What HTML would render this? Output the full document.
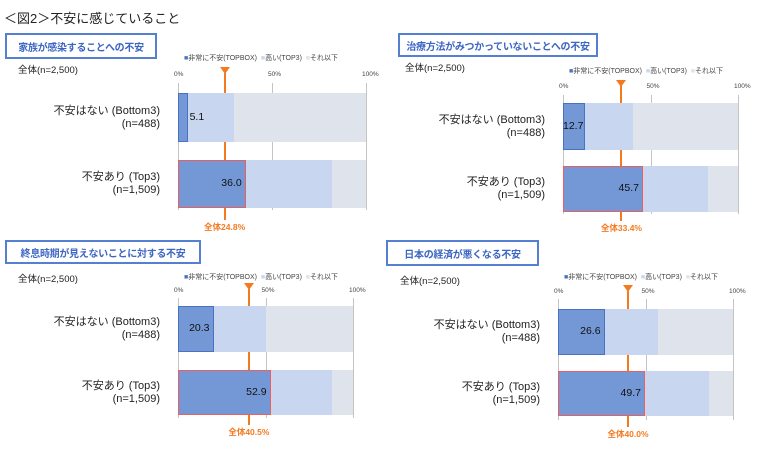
<!DOCTYPE html>
<html><head><meta charset="utf-8"><style>
body{margin:0;width:760px;height:450px;background:#fff;position:relative;overflow:hidden;font-family:"Liberation Sans","Noto Sans CJK JP",sans-serif;color:#222}
.a{position:absolute;white-space:nowrap}
.tb{position:absolute;border:2px solid #5580d2;color:#3d66c4;font-size:10px;font-weight:bold;letter-spacing:-0.3px;white-space:nowrap;display:flex;align-items:center;justify-content:center;box-sizing:border-box;background:#fff}
.cl{position:absolute;text-align:right;font-size:11px;line-height:13px;width:160px}
.tick{position:absolute;font-size:6.5px;color:#444}
.leg{position:absolute;font-size:7px;color:#444;white-space:nowrap}
.grid{position:absolute;width:1px;background:#c4c4c4}
.seg{position:absolute;box-sizing:border-box}
.val{position:absolute;font-size:10.5px;color:#111}
.tot{position:absolute;font-size:8.5px;color:#f47a20;font-weight:bold;white-space:nowrap;transform:translateX(-50%)}
.ol{position:absolute;width:2px;background:#f47a20}
</style></head><body>
<div class="a" style="left:4px;top:8px;font-size:13px">＜図2＞不安に感じていること</div>
<div id="root"></div>
<script>
var P=[
{t:"家族が感染することへの不安",tb:[5,33,152,26],n:[18,62],x0:178,w:188,leg:53,ax:71,gy:[83,210],b:[[93,49,5.1,30,0],[160,48,36.0,82,1]],m:24.8,ty:67,ly:221,cl:160},
{t:"治療方法がみつかっていないことへの不安",tb:[398,33,200,24],n:[405,60],x0:563,w:175,leg:66,ax:83,gy:[95,214],b:[[103,47,12.7,40,0],[166,46,45.7,83,1]],m:33.4,ty:80,ly:222,cl:545},
{t:"終息時期が見えないことに対する不安",tb:[5,240,196,24],n:[18,271],x0:178,w:175,leg:272,ax:287,gy:[298,418],b:[[306,46,20.3,50,0],[370,45,52.9,88,1]],m:40.5,ty:283,ly:426,cl:160},
{t:"日本の経済が悪くなる不安",tb:[386,240,153,26],n:[400,273],x0:558,w:175,leg:272,ax:288,gy:[299,420],b:[[309,46,26.6,57,0],[371,45,49.7,86,1]],m:40.0,ty:285,ly:428,cl:540}];
var h="";
P.forEach(function(p){
 h+='<div class="tb" style="left:'+p.tb[0]+'px;top:'+p.tb[1]+'px;width:'+p.tb[2]+'px;height:'+p.tb[3]+'px">'+p.t+'</div>';
 h+='<div class="a" style="left:'+p.n[0]+'px;top:'+p.n[1]+'px;font-size:9.5px">全体(n=2,500)</div>';
 var lx=p.x0+6;
 h+='<div class="leg" style="left:'+lx+'px;top:'+p.leg+'px"><span style="color:#4a72c4">■</span>非常に不安(TOPBOX)&nbsp;&nbsp;<span style="color:#c8d6ef">■</span>高い(TOP3)&nbsp;&nbsp;<span style="color:#dfe3ec">■</span>それ以下</div>';
 [0,50,100].forEach(function(v){var x=p.x0+p.w*v/100;h+='<div class="tick" style="left:'+(x-4)+'px;top:'+p.ax+'px">'+v+'%</div>';h+='<div class="grid" style="left:'+x+'px;top:'+p.gy[0]+'px;height:'+(p.gy[1]-p.gy[0])+'px"></div>';});
 var mx=p.x0+p.w*p.m/100;
 h+='<div class="ol" style="left:'+(mx-1)+'px;top:'+(p.ty+6)+'px;height:'+(p.b[0][0]-p.ty-6)+'px"></div>';
 h+='<div class="ol" style="left:'+(mx-1)+'px;top:'+(p.b[0][0]+p.b[0][1])+'px;height:'+(p.b[1][0]-p.b[0][0]-p.b[0][1])+'px"></div>';
 h+='<div class="ol" style="left:'+(mx-1)+'px;top:'+(p.b[1][0]+p.b[1][1])+'px;height:'+(p.ly-p.b[1][0]-p.b[1][1]-1)+'px"></div>';
 h+='<div class="a" style="left:'+(mx-5)+'px;top:'+p.ty+'px;width:0;height:0;border-left:5px solid transparent;border-right:5px solid transparent;border-top:7px solid #f47a20"></div>';
 h+='<div class="tot" style="left:'+mx+'px;top:'+p.ly+'px">全体'+p.m.toFixed(1)+'%</div>';
 var labs=[["不安はない (Bottom3)","(n=488)"],["不安あり (Top3)","(n=1,509)"]];
 p.b.forEach(function(b,i){
  var y=b[0],hh=b[1],dw=p.w*b[2]/100,lw=p.w*b[3]/100;
  h+='<div class="seg" style="left:'+p.x0+'px;top:'+y+'px;width:'+p.w+'px;height:'+hh+'px;background:#dfe3ec"></div>';
  h+='<div class="seg" style="left:'+p.x0+'px;top:'+y+'px;width:'+lw+'px;height:'+hh+'px;background:#c8d6ef"></div>';
  h+='<div class="seg" style="left:'+p.x0+'px;top:'+y+'px;width:'+dw+'px;height:'+hh+'px;background:#7497d6;border:'+(b[4]?'1.5px solid #ec5f5f':'1px solid #4a72c4')+'"></div>';
  var vs=b[2].toFixed(1);
  if(b[2]<8) h+='<div class="val" style="left:'+(p.x0+dw+2)+'px;top:'+(y+hh/2-7)+'px">'+vs+'</div>';
  else h+='<div class="val" style="left:'+p.x0+'px;width:'+(dw-4)+'px;text-align:right;top:'+(y+hh/2-7)+'px">'+vs+'</div>';
  h+='<div class="cl" style="left:'+(p.cl-160)+'px;top:'+(y+hh/2-13)+'px">'+labs[i][0]+'<br>'+labs[i][1]+'</div>';
 });
});
document.getElementById("root").innerHTML=h;
</script>
</body></html>
